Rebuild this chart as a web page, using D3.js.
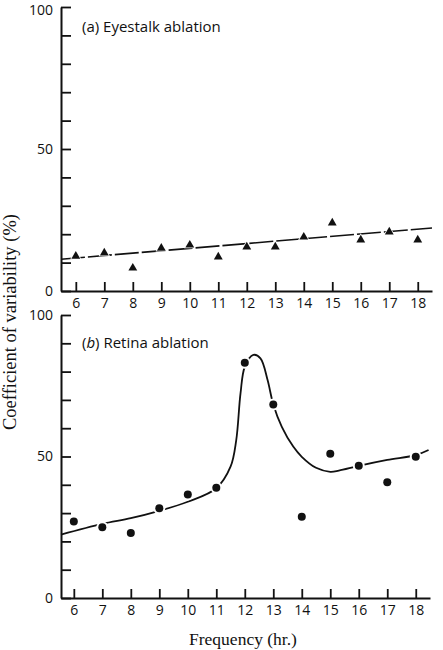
<!DOCTYPE html>
<html>
<head>
<meta charset="utf-8">
<script src="https://cdn.jsdelivr.net/npm/d3@7"></script>
<style>
body { margin: 0; background: #fff; }
svg { display: block; }
.axis path, .axis line { stroke: #111; }
.axis text { font-family: "Open Sans", "DejaVu Sans", sans-serif; font-size: 14px; fill: #111; }
.title { font-family: "Open Sans", "DejaVu Sans", sans-serif; font-size: 15px; fill: #111; }
.serif { font-family: "Liberation Serif", "DejaVu Serif", serif; fill: #111; }
</style>
</head>
<body>
<svg width="443" height="650"></svg>
<script>
// hours on the x axis
var hours = [6, 7, 8, 9, 10, 11, 12, 13, 14, 15, 16, 17, 18];

// (a) eyestalk ablation, coefficient of variability %
var eyestalk = [12.3, 13.4, 8.1, 15.1, 16.2, 12, 15.5, 15.5, 19, 24, 18, 20.8, 18];
var fitX = [5.48, 18.5];
var fitY = [11.2, 22.2];

// (b) retina ablation
var retina = [27, 25, 23, 31.7, 36.6, 39, 83.1, 68.4, 28.7, 51, 46.7, 40.9, 49.9];
var curveX = [5.55, 7, 8, 9, 10, 11, 11.5, 11.7, 11.85, 12, 12.3, 12.55, 12.8, 13, 13.3, 13.7, 14, 14.5, 15, 15.3, 16, 17, 18, 18.45];
var curveY = [22.4, 26.2, 28.2, 30.8, 34, 38.8, 46.4, 55.8, 72.3, 81.7, 85.9, 84.7, 77, 68.4, 60.5, 53.5, 49.9, 46, 44.6, 45, 46.7, 48.8, 50.5, 52.3];

var yTicks = [0, 10, 20, 30, 40, 50, 60, 70, 80, 90, 100];

var svg = d3.select("svg");

function draw_axes(g, x, y, yBase) {
	g.append("g")
		.attr("class", "axis")
		.attr("transform", "translate(0," + yBase + ")")
		.call(d3.axisBottom(x).tickValues(hours).tickSizeInner(-9).tickSizeOuter(0).tickPadding(7))
		.call(function(s) {
			s.select(".domain").attr("stroke-width", 2);
			s.selectAll(".tick line").attr("stroke-width", 1.8);
		});

	var ax = g.append("g")
		.attr("class", "axis")
		.attr("transform", "translate(" + x.range()[0] + ",0)")
		.call(d3.axisLeft(y).tickValues(yTicks).tickSizeInner(-10).tickSizeOuter(0).tickPadding(8)
			.tickFormat(function(d) { return d % 50 == 0 ? d : ""; }));
	ax.select(".domain").attr("stroke-width", 2);
	ax.selectAll(".tick line").attr("stroke-width", 1.8);
	return ax;
}

// panel a
var xa = d3.scaleLinear().domain([5.48, 18.5]).range([61, 432]);
var ya = d3.scaleLinear().domain([0, 100]).range([291, 7]);
var ga = svg.append("g");
var axa = draw_axes(ga, xa, ya, ya(0));
// keep the top label inside the page
axa.selectAll(".tick text").filter(function(d) { return d == 100; }).attr("y", 3);

ga.append("path")
	.datum(d3.zip(fitX, fitY))
	.attr("fill", "none")
	.attr("stroke", "#111")
	.attr("stroke-width", 1.6)
	.attr("stroke-dasharray", "24,3")
	.attr("d", d3.line().x(function(d) { return xa(d[0]); }).y(function(d) { return ya(d[1]); }));

var tri = d3.symbol().type(d3.symbolTriangle).size(34);
ga.selectAll("path.pt")
	.data(hours)
	.enter().append("path")
	.attr("class", "pt")
	.attr("d", tri)
	.attr("fill", "#111")
	.attr("stroke", "#fff")
	.attr("stroke-width", 1.5)
	.attr("paint-order", "stroke")
	.attr("transform", function(d, i) { return "translate(" + xa(d) + "," + ya(eyestalk[i]) + ")"; });

ga.append("text")
	.attr("class", "title")
	.attr("x", 82).attr("y", 32)
	.text("(a)  Eyestalk ablation");

// panel b
var xb = d3.scaleLinear().domain([5.55, 18.5]).range([61, 430]);
var yb = d3.scaleLinear().domain([0, 100]).range([598, 315]);
var gb = svg.append("g");
draw_axes(gb, xb, yb, yb(0));

gb.append("path")
	.datum(d3.zip(curveX, curveY))
	.attr("fill", "none")
	.attr("stroke", "#111")
	.attr("stroke-width", 1.8)
	.attr("d", d3.line().curve(d3.curveCatmullRom)
		.x(function(d) { return xb(d[0]); }).y(function(d) { return yb(d[1]); }));

gb.selectAll("circle.halo")
	.data(hours)
	.enter().append("circle")
	.attr("class", "halo")
	.attr("cx", function(d) { return xb(d); })
	.attr("cy", function(d, i) { return yb(retina[i]); })
	.attr("r", 6)
	.attr("fill", "#fff");

gb.selectAll("circle.pt")
	.data(hours)
	.enter().append("circle")
	.attr("class", "pt")
	.attr("cx", function(d) { return xb(d); })
	.attr("cy", function(d, i) { return yb(retina[i]); })
	.attr("r", 4)
	.attr("fill", "#111");

var tb = gb.append("text")
	.attr("class", "title")
	.attr("x", 82).attr("y", 348);
tb.append("tspan").text("(");
tb.append("tspan").attr("font-style", "italic").text("b");
tb.append("tspan").text(")  Retina ablation");

// axis titles
svg.append("text")
	.attr("class", "serif")
	.attr("font-size", 18.5)
	.attr("text-anchor", "middle")
	.attr("transform", "translate(16,322) rotate(-90)")
	.text("Coefficient of variability (%)");

svg.append("text")
	.attr("class", "serif")
	.attr("font-size", 17.5)
	.attr("text-anchor", "middle")
	.attr("x", 243).attr("y", 645)
	.text("Frequency (hr.)");
</script>
</body>
</html>
